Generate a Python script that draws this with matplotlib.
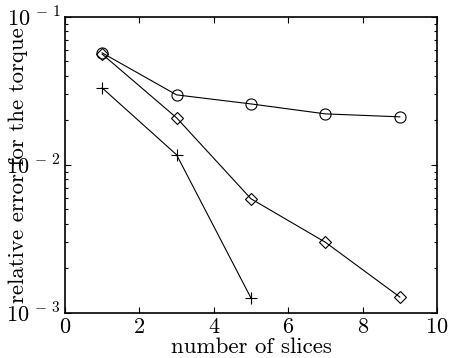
import numpy as np
import matplotlib
matplotlib.use("Agg")
import matplotlib.pyplot as plt
from matplotlib.ticker import NullFormatter, LogLocator

plt.rcParams['font.family'] = 'cmr10'
plt.rcParams['mathtext.fontset'] = 'cm'
plt.rcParams['axes.formatter.use_mathtext'] = True

# data
slices = [1, 3, 5, 7, 9]
err_circle = [0.0571, 0.0297, 0.0258, 0.0221, 0.0211]
err_diamond = [0.0560, 0.0208, 0.0059, 0.0030, 0.00128]
slices_plus = [1, 3, 5]
err_plus = [0.0331, 0.0117, 0.00126]

fig = plt.figure(figsize=(4.51, 3.58), dpi=100)
ax = fig.add_axes([0.144, 0.126, 0.825, 0.827])

ax.plot(slices, err_circle, '-', color='black', lw=0.8, marker='o', ms=8,
        mfc='none', mec='black', mew=0.8)
ax.plot(slices, err_diamond, '-', color='black', lw=0.8, marker='D', ms=6.5,
        mfc='none', mec='black', mew=0.8)
ax.plot(slices_plus, err_plus, '-', color='black', lw=0.8, marker='+', ms=9,
        mec='black', mew=0.8)

ax.set_yscale('log')
ax.set_xlim(0, 10)
ax.set_ylim(1e-3, 1e-1)
ax.set_xticks([0, 2, 4, 6, 8, 10])
ax.set_yticks([1e-3, 1e-2, 1e-1])
ax.set_yticklabels([r'$10^{\,-\,3}$', r'$10^{\,-\,2}$', r'$10^{\,-\,1}$'])
ax.yaxis.set_minor_locator(LogLocator(base=10, subs=np.arange(2, 10)))
ax.yaxis.set_minor_formatter(NullFormatter())

ax.tick_params(which='both', direction='in', top=True, right=True,
               labelsize=16, pad=3)
ax.tick_params(which='major', length=4, width=0.8)
ax.tick_params(which='minor', length=2.5, width=0.8)
for s in ax.spines.values():
    s.set_linewidth(1.2)

ax.set_xlabel('number of slices', fontsize=16.5, labelpad=1)
ax.set_ylabel('relative error for the torque', fontsize=16.5)
ax.yaxis.set_label_coords(-0.10, 0.5)

fig.savefig('out.png', dpi=100)
